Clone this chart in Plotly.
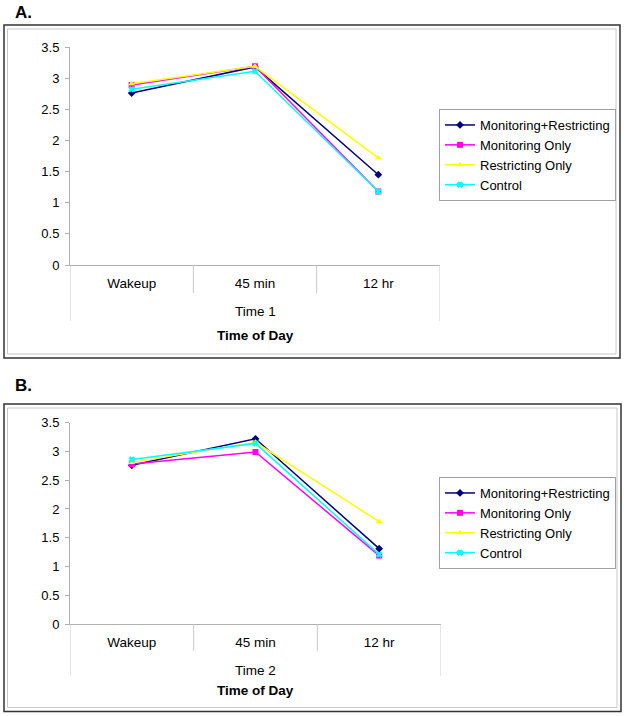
import plotly.graph_objects as go

# ---- data ----
times = ["Wakeup", "45 min", "12 hr"]
series_names = ["Monitoring+Restricting", "Monitoring Only", "Restricting Only", "Control"]
groups = ["Time 1", "Time 2"]

time1_mr = [2.76, 3.18, 1.45]
time1_mo = [2.89, 3.19, 1.18]
time1_ro = [2.91, 3.19, 1.72]
time1_ct = [2.82, 3.11, 1.18]

time2_mr = [2.76, 3.22, 1.31]
time2_mo = [2.78, 2.99, 1.19]
time2_ro = [2.81, 3.16, 1.78]
time2_ct = [2.86, 3.14, 1.21]

y_ticks = [0, 0.5, 1, 1.5, 2, 2.5, 3, 3.5]

# ---- styles ----
colors = ["#000080", "#FF00FF", "#FFFF00", "#00FFFF"]
symbols = ["diamond", "square", "triangle-up", "x"]
FONT = "Arial, Liberation Sans, sans-serif"
W, H = 626, 716


def px_x(p):
    return p / W


def px_y(p):
    return 1 - p / H


fig = go.Figure()

panels = [
    (groups[0], [time1_mr, time1_mo, time1_ro, time1_ct], "x", "y", "legend"),
    (groups[1], [time2_mr, time2_mo, time2_ro, time2_ct], "x2", "y2", "legend2"),
]
for group, vals, xa, ya, lg in panels:
    for name, v, c, s in zip(series_names, vals, colors, symbols):
        fig.add_trace(go.Scatter(
            x=times, y=v, name=name, mode="lines+markers",
            line=dict(color=c, width=1.5),
            marker=dict(color=c, symbol=s, size=6 if s != "x" else 5,
                        line=dict(width=1, color=c) if s == "x" else dict(width=0)),
            xaxis=xa, yaxis=ya, legend=lg,
        ))

axis_common_x = dict(
    type="category", categoryorder="array", categoryarray=times, range=[-0.5, 2.5],
    showline=True, linecolor="#b0b0b0", linewidth=1, automargin=False,
    ticks="", showgrid=False, zeroline=False, ticklabelstandoff=6,
    tickfont=dict(family=FONT, size=13.5, color="#000"),
)
axis_common_y = dict(
    range=[0, 3.5], tickvals=y_ticks, showline=True, linecolor="#b0b0b0", linewidth=1,
    ticks="outside", ticklen=4, tickcolor="#b0b0b0", showgrid=False, zeroline=False,
    automargin=False,
    tickfont=dict(family=FONT, size=13, color="#000"), ticklabelstandoff=3,
)

# panel geometry in px: (x_left, x_right, y_top(3.5), y_bottom(0))
geomA = (70, 440, 47, 265)
geomB = (70, 441, 422.7, 624)

legend_style = dict(xanchor="left", yanchor="middle", bordercolor="#a0a0a0", borderwidth=1,
                    bgcolor="white", font=dict(family=FONT, size=13), itemwidth=30,
                    tracegroupgap=0)

fig.update_layout(
    width=W, height=H, margin=dict(l=0, r=0, t=0, b=0, pad=0, autoexpand=False),
    paper_bgcolor="white", plot_bgcolor="white",
    font=dict(family=FONT, size=13.5, color="#000"),
    showlegend=True,
    xaxis=dict(domain=[px_x(geomA[0]), px_x(geomA[1])], anchor="y", **axis_common_x),
    yaxis=dict(domain=[px_y(geomA[3]), px_y(geomA[2])], anchor="x", **axis_common_y),
    xaxis2=dict(domain=[px_x(geomB[0]), px_x(geomB[1])], anchor="y2", **axis_common_x),
    yaxis2=dict(domain=[px_y(geomB[3]), px_y(geomB[2])], anchor="x2", **axis_common_y),
    legend=dict(x=px_x(439), y=px_y(155), **legend_style),
    legend2=dict(x=px_x(439), y=px_y(523), **legend_style),
)

shapes = []
# outer chart borders: (top, bottom, right)
for top, bot, right in [(25, 358, 620), (404, 711.5, 621)]:
    shapes.append(dict(type="rect", xref="paper", yref="paper",
                       x0=px_x(4), x1=px_x(right), y0=px_y(bot), y1=px_y(top),
                       line=dict(color="#333333", width=1.5)))
    shapes.append(dict(type="rect", xref="paper", yref="paper",
                       x0=px_x(7.5), x1=px_x(right - 4), y0=px_y(bot - 4), y1=px_y(top + 4),
                       line=dict(color="#c8c8c8", width=1)))

# category divider lines below the axis
for xa, (xl, xr, yt, yb), inner_len, outer_len in [("x", geomA, 28, 56), ("x2", geomB, 27, 52)]:
    for b in [-0.5, 0.5, 1.5, 2.5]:
        ln = outer_len if b in (-0.5, 2.5) else inner_len
        shapes.append(dict(type="line", xref=xa, yref="paper", x0=b, x1=b,
                           y0=px_y(yb), y1=px_y(yb + ln),
                           line=dict(color="#c8c8c8", width=1)))
fig.update_layout(shapes=shapes)

# group labels and axis titles
for xa, grp, y_grp, y_title in [("x", groups[0], 311.5, 335.5), ("x2", groups[1], 670, 690)]:
    fig.add_annotation(text=grp, x=1, xref=xa, y=px_y(y_grp), yref="paper",
                       yanchor="middle", showarrow=False,
                       font=dict(family=FONT, size=13.5, color="#000"))
    fig.add_annotation(text="<b>Time of Day</b>", x=1, xref=xa, y=px_y(y_title), yref="paper",
                       yanchor="middle", showarrow=False,
                       font=dict(family=FONT, size=13.5, color="#000"))

fig.add_annotation(text="<b>A.</b>", x=px_x(13), y=px_y(12.5), xref="paper", yref="paper",
                   xanchor="left", yanchor="middle", showarrow=False,
                   font=dict(family=FONT, size=17, color="#000"))
fig.add_annotation(text="<b>B.</b>", x=px_x(13), y=px_y(385), xref="paper", yref="paper",
                   xanchor="left", yanchor="middle", showarrow=False,
                   font=dict(family=FONT, size=17, color="#000"))

fig.write_html("out.html", config={"displayModeBar": False},
               post_script="document.body.style.margin='0px';"
                           "document.body.style.overflow='hidden';"
                           "document.documentElement.style.overflow='hidden';")
